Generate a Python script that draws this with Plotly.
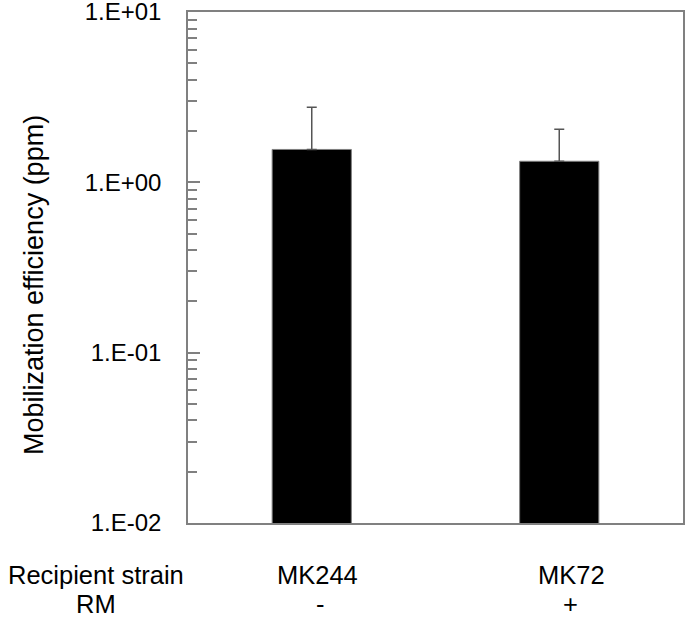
import plotly.graph_objects as go

strains = ["MK244", "MK72"]
rm_status = ["-", "+"]
efficiency = [1.56, 1.33]
err_plus = [1.20, 0.72]
err_minus = [0.0, 0.0]
ytick_vals = [0.01, 0.1, 1, 10]
ytick_text = ["1.E-02", "1.E-01", "1.E+00", "1.E+01"]
row_labels = ["Recipient strain", "RM"]

W, H = 685, 618
L, R, T, B = 188, 2, 12, 95
pw, ph = W - L - R, H - T - B

def py(ypix):
    return (H - B - ypix) / ph

def px(xpix):
    return (xpix - L) / pw

fig = go.Figure()
fig.add_trace(go.Bar(
    x=[0, 1], y=efficiency, width=0.32,
    marker=dict(color="black", line=dict(color="#808080", width=1)),
    error_y=dict(type="data", symmetric=False, array=err_plus, arrayminus=err_minus,
                 color="#555555", thickness=1.5, width=5),
))

font_lbl = dict(family="Liberation Sans, Arial", size=25.5, color="black")
row1, row2 = 575, 604
annotations = []
shifts_top = [6, 12]
shifts_bot = [9, 11]
for i, (s, r) in enumerate(zip(strains, rm_status)):
    annotations.append(dict(x=i, y=py(row1), xref="x", yref="paper", text=s, showarrow=False,
                            xshift=shifts_top[i], xanchor="center", yanchor="middle", font=font_lbl))
    annotations.append(dict(x=i, y=py(row2), xref="x", yref="paper", text=r, showarrow=False,
                            xshift=shifts_bot[i], xanchor="center", yanchor="middle", font=font_lbl))
annotations.append(dict(x=px(96), y=py(row1), xref="paper", yref="paper", text=row_labels[0],
                        showarrow=False, xanchor="center", yanchor="middle", font=font_lbl))
annotations.append(dict(x=px(96), y=py(row2), xref="paper", yref="paper", text=row_labels[1],
                        showarrow=False, xanchor="center", yanchor="middle", font=font_lbl))
annotations.append(dict(x=px(34), y=py(285), xref="paper", yref="paper",
                        text="Mobilization efficiency (ppm)", textangle=-90, showarrow=False,
                        xanchor="center", yanchor="middle",
                        font=dict(family="Liberation Sans, Arial", size=27, color="black")))

fig.update_layout(
    width=W, height=H,
    margin=dict(l=L, r=R, t=T, b=B, autoexpand=False),
    paper_bgcolor="white", plot_bgcolor="white",
    showlegend=False,
    annotations=annotations,
    xaxis=dict(range=[-0.5, 1.5], showticklabels=False, ticks="", showgrid=False, zeroline=False,
               showline=True, linecolor="#808080", linewidth=1.5, mirror=True),
    yaxis=dict(type="log", range=[-2, 1], tickmode="array", tickvals=ytick_vals, ticktext=ytick_text,
               ticklabeloverflow="allow",
               ticks="inside", ticklen=12, tickcolor="#808080", tickwidth=1.5,
               ticklabelstandoff=20,
               tickfont=dict(family="Liberation Sans, Arial", size=24, color="black"),
               showgrid=False, zeroline=False,
               showline=True, linecolor="#808080", linewidth=1.5, mirror=True,
               minor=dict(ticks="inside", ticklen=9, tickcolor="#808080", tickwidth=1.5,
                          dtick="D1", showgrid=False)),
)

fig.write_html("out.html", config={"displayModeBar": False},
               post_script="document.body.style.margin='0';document.body.style.overflow='hidden';")
